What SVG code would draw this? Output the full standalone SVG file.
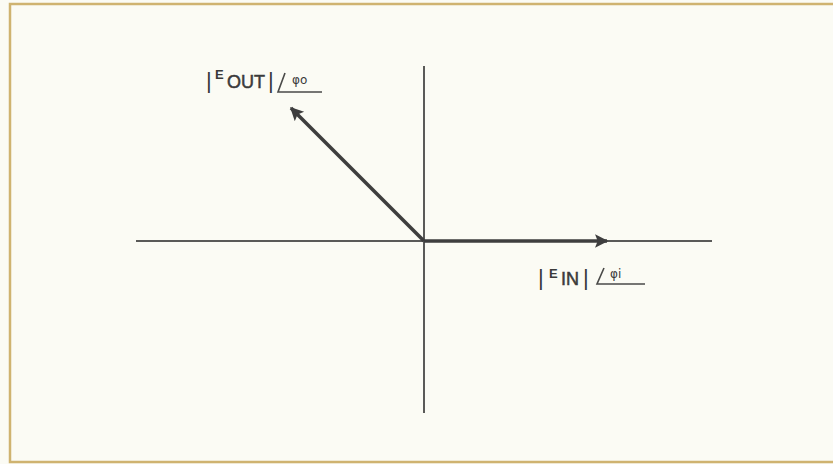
<svg xmlns="http://www.w3.org/2000/svg" width="833" height="464" viewBox="0 0 833 464">
<defs>
<style>
.ax{stroke:#5a5a58;stroke-width:2;fill:none}
.vec{stroke:#3e3e3e;stroke-width:3.5;fill:none}
.ang{stroke:#4a4a48;stroke-width:1.6;fill:none}
.t{font-family:"Liberation Sans",Arial,sans-serif;fill:#3a3a3a}
.bar{font-size:22px}
.e{font-size:13px;font-weight:bold}
.m{font-size:18px;stroke:#3a3a3a;stroke-width:0.5}
.phi{font-size:12px;font-family:"DejaVu Sans",sans-serif}
</style>
<marker id="ah" viewBox="0 0 10 10" refX="9" refY="5" markerWidth="6.2" markerHeight="3.8" markerUnits="strokeWidth" orient="auto">
<path d="M0,0 L10,5 L0,10 L2,5 Z" fill="#3e3e3e"/>
</marker>
</defs>
<rect x="0" y="0" width="833" height="464" fill="#fbfbf4"/>
<rect x="10" y="4" width="830" height="458" fill="none" stroke="#cfb370" stroke-width="2.5"/>
<g id="connectors">
<line class="ax" x1="136" y1="241" x2="712" y2="241"/>
<line class="ax" x1="424" y1="66" x2="424" y2="413"/>
<line class="vec" x1="424" y1="241" x2="607" y2="241" marker-end="url(#ah)"/>
<line class="vec" x1="424" y1="241" x2="291" y2="108" marker-end="url(#ah)"/>
</g>
<g id="eout-label">
<text class="t bar" x="206" y="88">|</text>
<text class="t e" x="215" y="79">E</text>
<text class="t m" x="227" y="88">OUT</text>
<text class="t bar" x="268" y="88">|</text>
<path class="ang" d="M285,73 L278,92 L322,92"/>
<text class="t phi" x="292" y="84">φo</text>
</g>
<g id="ein-label">
<text class="t bar" x="538" y="285">|</text>
<text class="t e" x="549" y="278">E</text>
<text class="t m" x="561" y="285">IN</text>
<text class="t bar" x="583" y="285">|</text>
<path class="ang" d="M604,268 L597,284 L645,284"/>
<text class="t phi" x="610" y="278">φi</text>
</g>
</svg>
